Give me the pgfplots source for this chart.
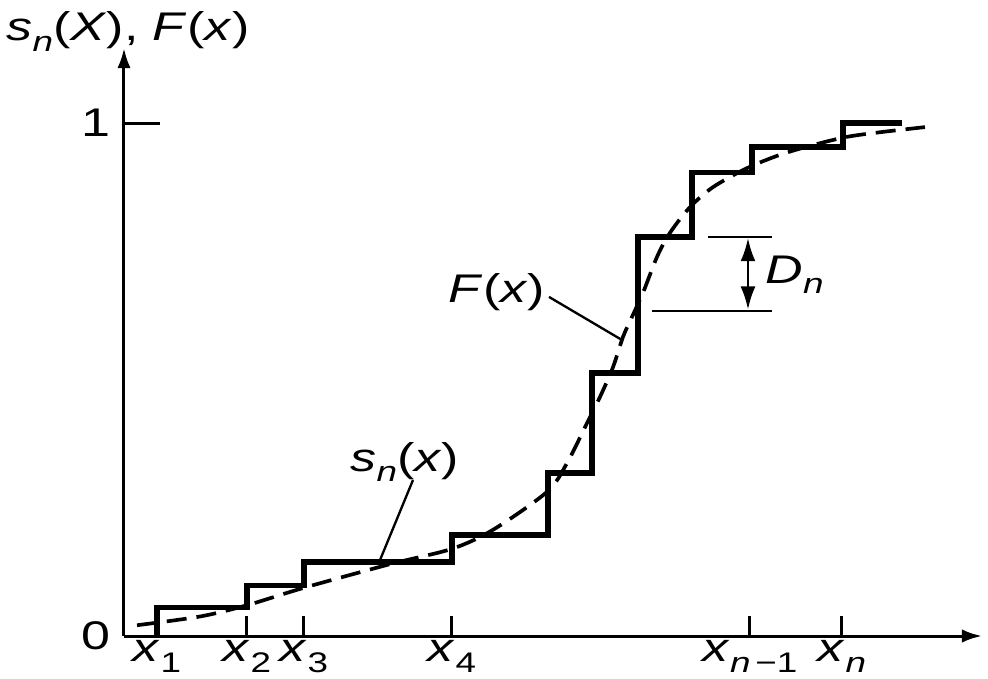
\documentclass[border=0pt]{standalone}
\usepackage{fontspec}
\setmainfont{Liberation Sans}[FakeStretch=1.3]
\usepackage{pgfplots}
\pgfplotsset{compat=1.18}
\usetikzlibrary{arrows.meta}
\newcommand\sub[1]{\raisebox{-0.5ex}{\fontsize{8.5}{9}\selectfont #1}}
\begin{document}
\begin{tikzpicture}
\begin{axis}[
  x=0.3pt, y=153.9pt,
  xmin=124, xmax=982, ymin=0, ymax=1.146,
  axis lines=left,
  axis line style={line width=0.9pt, -{Latex[length=6pt,width=4pt]}},
  clip=false,
  tick align=inside,
  major tick length=6pt,
  tick style={line width=0.9pt, black},
  xtick={157,247,304,452,750,842},
  xticklabels={{\textit{x}\sub{1}},{\textit{x}\sub{2}},{\textit{x}\sub{3}},{\textit{x}\sub{4}},{\textit{x}\sub{\textit{n}\,−1}},{\textit{x}\sub{\textit{n}}}},
  ytick={0,1},
  yticklabels={0,1},
  ticklabel style={font=\fontsize{12}{14}\selectfont},
  xticklabel style={yshift=2.2pt},
  yticklabel style={xshift=-0.5pt},
]
% empirical step function s_n(x)
\addplot[const plot, black, line width=1.6pt] coordinates {
  (157,0) (157,0.055) (247,0.099) (304,0.144) (452,0.197) (548,0.318)
  (592,0.513) (638,0.778) (692,0.904) (752,0.953) (843,1.0) (902,1.0)
};
% theoretical CDF F(x)
\addplot[smooth, black, line width=1.1pt, dash pattern=on 6pt off 3pt] coordinates {
  (137,0.021) (200,0.038) (247,0.060) (304,0.094) (390,0.140) (452,0.170)
  (493,0.207) (547,0.281) (567,0.337) (587,0.415) (600,0.466) (613,0.524)
  (623,0.583) (632,0.622) (643,0.669) (657,0.739) (670,0.786) (690,0.836)
  (713,0.875) (747,0.912) (780,0.938) (813,0.957) (847,0.973) (880,0.982) (925,0.992)
};
% y tick at 1
\draw[line width=0.9pt] (axis cs:124,1) -- (axis cs:160,1);
% D_n annotation
\draw[line width=0.75pt] (axis cs:708,0.778) -- (axis cs:772,0.778);
\draw[line width=0.75pt] (axis cs:652,0.634) -- (axis cs:772,0.634);
\draw[line width=0.8pt, {Latex[length=7pt,width=4.5pt]}-{Latex[length=7pt,width=4.5pt]}] (axis cs:748,0.776) -- (axis cs:748,0.636);
\node[anchor=west, font=\fontsize{12}{14}\selectfont, inner sep=0pt] at (axis cs:765,0.704) {\textit{D}\sub{\textit{n}}};
% F(x) label
\node[font=\fontsize{12}{14}\selectfont, inner sep=0pt] at (axis cs:497,0.671) {\textit{F}(\textit{x})};
\draw[line width=0.7pt] (axis cs:549,0.661) -- (axis cs:622,0.577);
% s_n(x) label
\node[font=\fontsize{12}{14}\selectfont, inner sep=0pt] at (axis cs:405,0.339) {\textit{s}\sub{\textit{n}}(\textit{x})};
\draw[line width=0.7pt] (axis cs:413,0.304) -- (axis cs:380,0.148);
% y label
\node[font=\fontsize{12}{14}\selectfont, inner sep=0pt] at (axis cs:128,1.178) {\textit{s}\sub{\textit{n}}(\textit{X}), \textit{F}(\textit{x})};
\coordinate (bl) at (axis cs:0,-0.0838);
\coordinate (tr) at (axis cs:988,1.2398);
\end{axis}
\pgfresetboundingbox
\useasboundingbox (bl) rectangle (tr);
\end{tikzpicture}
\end{document}
